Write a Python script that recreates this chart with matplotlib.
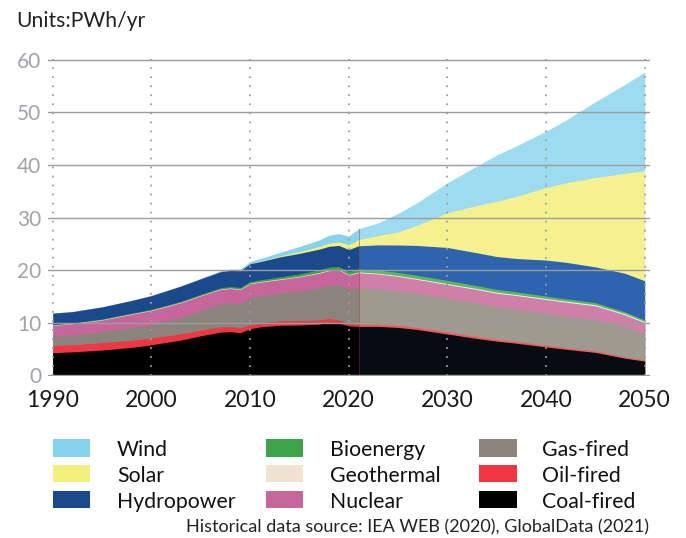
import matplotlib
matplotlib.use("Agg")
import matplotlib.pyplot as plt
import numpy as np
from matplotlib.patches import Rectangle
from matplotlib import font_manager as fm

# ---------------- data ----------------
series = ["Coal-fired", "Oil-fired", "Gas-fired", "Nuclear", "Geothermal",
          "Bioenergy", "Hydropower", "Solar", "Wind"]

hist_years = [1990, 1992, 1995, 1998, 2000, 2003, 2005, 2007, 2008, 2009, 2010,
              2011, 2013, 2015, 2017, 2018, 2019, 2020, 2021]
hist_coal = [4.3, 4.45, 4.8, 5.3, 5.8, 6.7, 7.5, 8.2, 8.3, 8.1, 8.85, 9.2, 9.5, 9.55, 9.75, 10.05, 9.9, 9.4, 9.3]
hist_oil = [1.35, 1.35, 1.4, 1.35, 1.3, 1.2, 1.1, 1.0, 0.95, 0.95, 0.75, 0.75, 0.85, 0.85, 0.75, 0.75, 0.6, 0.45, 0.45]
hist_gas = [1.8, 1.85, 2.1, 2.45, 2.5, 3.1, 3.7, 4.4, 4.55, 4.5, 5.15, 5.15, 5.25, 5.6, 6.1, 6.3, 6.7, 6.55, 6.95]
hist_nuclear = [2.0, 2.15, 2.2, 2.5, 2.7, 2.8, 2.8, 2.7, 2.7, 2.75, 2.65, 2.6, 2.6, 2.7, 2.8, 2.8, 2.8, 2.65, 2.8]
hist_geo = [0.08, 0.08, 0.09, 0.09, 0.1, 0.1, 0.1, 0.11, 0.11, 0.11, 0.12, 0.12, 0.12, 0.13, 0.13, 0.14, 0.14, 0.14, 0.15]
hist_bio = [0.1, 0.11, 0.12, 0.14, 0.15, 0.17, 0.2, 0.23, 0.25, 0.27, 0.3, 0.33, 0.38, 0.45, 0.5, 0.53, 0.55, 0.57, 0.57]
hist_hydro = [2.19, 2.12, 2.3, 2.4, 2.6, 2.9, 2.95, 3.05, 3.1, 3.2, 3.4, 3.45, 3.8, 3.9, 3.95, 3.95, 4.0, 4.15, 4.4]
hist_solar = [0, 0, 0, 0, 0, 0, 0.005, 0.008, 0.012, 0.02, 0.04, 0.07, 0.17, 0.35, 0.5, 0.6, 0.7, 0.9, 1.15]
hist_wind = [0.004, 0.005, 0.008, 0.02, 0.03, 0.065, 0.1, 0.17, 0.22, 0.27, 0.36, 0.48, 0.7, 0.95, 1.25, 1.5, 1.55, 1.65, 2.1]

fc_years = [2021, 2023, 2025, 2027, 2030, 2033, 2035, 2037, 2040, 2042, 2045, 2048, 2050]
fc_coal = [9.3, 9.3, 9.1, 8.7, 7.85, 7.0, 6.5, 6.1, 5.4, 4.95, 4.35, 3.25, 2.7]
fc_oil = [0.45, 0.42, 0.4, 0.4, 0.4, 0.38, 0.36, 0.35, 0.33, 0.32, 0.3, 0.25, 0.22]
fc_gas = [6.95, 6.78, 6.6, 6.5, 6.45, 6.42, 6.24, 6.15, 6.07, 6.03, 5.95, 5.7, 5.08]
fc_nuclear = [2.8, 2.75, 2.7, 2.6, 2.55, 2.5, 2.5, 2.55, 2.6, 2.6, 2.6, 2.3, 2.0]
fc_geo = [0.15, 0.16, 0.17, 0.18, 0.19, 0.2, 0.2, 0.2, 0.21, 0.21, 0.22, 0.22, 0.22]
fc_bio = [0.57, 0.58, 0.6, 0.6, 0.61, 0.54, 0.53, 0.51, 0.45, 0.43, 0.39, 0.33, 0.31]
fc_hydro = [4.4, 4.8, 5.2, 5.7, 6.25, 6.25, 6.25, 6.35, 6.85, 6.95, 6.8, 7.35, 7.45]
fc_solar = [1.15, 1.8, 2.5, 3.9, 6.6, 9.0, 10.5, 11.8, 13.8, 15.1, 17.0, 19.0, 20.9]
fc_wind = [2.1, 2.4, 3.5, 4.3, 5.7, 7.5, 8.8, 9.6, 10.7, 11.9, 14.4, 16.9, 18.8]

x_ticks = [1990, 2000, 2010, 2020, 2030, 2040, 2050]
y_ticks = [0, 10, 20, 30, 40, 50, 60]
units_label = "Units:PWh/yr"
source_label = "Historical data source: IEA WEB (2020), GlobalData (2021)"
legend_order = ["Wind", "Solar", "Hydropower", "Bioenergy", "Geothermal",
                "Nuclear", "Gas-fired", "Oil-fired", "Coal-fired"]

# ---------------- style ----------------
hist_colors = {"Coal-fired": "#000000", "Oil-fired": "#ee3742", "Gas-fired": "#8b847c",
               "Nuclear": "#c7669b", "Geothermal": "#efe3d2", "Bioenergy": "#3fa34a",
               "Hydropower": "#1b4a8c", "Solar": "#f5f07e", "Wind": "#87d3ec"}
fc_colors = {"Coal-fired": "#070b12", "Oil-fired": "#f25a5e", "Gas-fired": "#9f9a90",
             "Nuclear": "#d07fa8", "Geothermal": "#f2ebe0", "Bioenergy": "#5cb860",
             "Hydropower": "#2e64ae", "Solar": "#f5f190", "Wind": "#9ddcf0"}

names = {f.name for f in fm.fontManager.ttflist}
FONT = "Lato" if "Lato" in names else "DejaVu Sans"
plt.rcParams["font.family"] = [FONT, "DejaVu Sans"]

W, H = 686, 538
fig = plt.figure(figsize=(W / 100, H / 100), dpi=100)

x0, x1 = 1989.5, 2050.5
y0, y1 = -0.2, 60.2
px_left, px_right = 47.77, 649.6
py_top, py_bottom = 58.65, 376.35
ax = fig.add_axes([px_left / W, 1 - py_bottom / H, (px_right - px_left) / W, (py_bottom - py_top) / H])


def draw(years, layers, colors):
    cum = np.cumsum(np.array(layers, dtype=float), axis=0)
    for i in range(len(series) - 1, -1, -1):
        ax.fill_between(years, 0, cum[i], color=colors[series[i]], linewidth=0, zorder=1)
    return cum


hist_layers = [hist_coal, hist_oil, hist_gas, hist_nuclear, hist_geo, hist_bio, hist_hydro, hist_solar, hist_wind]
fc_layers = [fc_coal, fc_oil, fc_gas, fc_nuclear, fc_geo, fc_bio, fc_hydro, fc_solar, fc_wind]
hc = draw(hist_years, hist_layers, hist_colors)
draw(fc_years, fc_layers, fc_colors)

# separator at the end of the historical data
ax.plot([hist_years[-1], hist_years[-1]], [0, hc[-1][-1]], color="#8b2a2a", alpha=0.45, lw=0.7, zorder=2)

ax.set_xlim(x0, x1)
ax.set_ylim(y0, y1)
ax.set_xticks(x_ticks)
ax.set_yticks(y_ticks)
ax.set_xticklabels([str(t) for t in x_ticks])
ax.set_yticklabels([str(t) for t in y_ticks])
for s in ax.spines.values():
    s.set_visible(False)
ax.set_axisbelow(False)
ax.grid(axis="y", color="#9c9c9c", lw=1.0, zorder=3)
ax.grid(axis="x", color="#9c9c9c", lw=1.3, linestyle=(0, (1, 4)), zorder=3)
ax.tick_params(axis="both", length=0)
ax.tick_params(axis="x", pad=10, labelsize=16.5, labelcolor="#1a1a1a")
ax.tick_params(axis="y", pad=4.5, labelsize=15, labelcolor="#a0a3a7")

fig.text(16.7 / W, 1 - 27.3 / H, units_label, ha="left", va="baseline",
         fontsize=15.2, color="#222222")

# legend
col_patch_x = [52.8, 266.0, 479.3]
col_text_x = [116.8, 330.0, 542.0]
row_base = [456.5, 482.0, 508.0]
pw, ph = 37.4, 17.4
for k, name in enumerate(legend_order):
    c, r = divmod(k, 3)
    fig.add_artist(Rectangle((col_patch_x[c] / W, 1 - (row_base[r] + 0.3) / H), pw / W, ph / H,
                             transform=fig.transFigure, facecolor=hist_colors[name],
                             edgecolor="none"))
    fig.text(col_text_x[c] / W, 1 - row_base[r] / H, name, ha="left", va="baseline",
             fontsize=15.3, color="#111111")

fig.text(648.6 / W, 1 - 532.7 / H, source_label, ha="right", va="baseline",
         fontsize=13.0, color="#222222")

fig.savefig("out.png", dpi=100)
